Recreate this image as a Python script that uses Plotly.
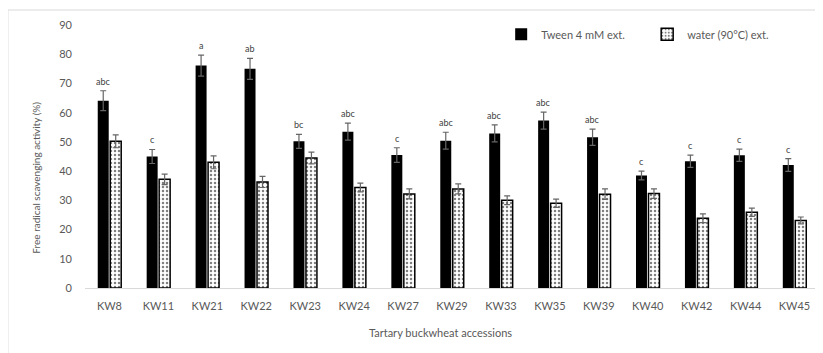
import plotly.graph_objects as go

categories = ["KW8", "KW11", "KW21", "KW22", "KW23", "KW24", "KW27", "KW29",
              "KW33", "KW35", "KW39", "KW40", "KW42", "KW44", "KW45"]
tween = [64.1, 45.0, 76.1, 75.0, 50.2, 53.5, 45.5, 50.4, 52.9, 57.3, 51.6, 38.5, 43.4, 45.4, 42.1]
tween_err = [3.4, 2.4, 3.6, 3.6, 2.4, 2.9, 2.5, 2.9, 2.9, 2.9, 2.8, 1.5, 2.1, 2.1, 2.2]
water = [50.2, 37.2, 43.0, 36.3, 44.5, 34.4, 32.2, 33.9, 30.0, 29.0, 32.1, 32.3, 23.9, 25.9, 23.1]
water_err = [2.2, 1.8, 2.2, 1.9, 2.0, 1.5, 1.7, 1.7, 1.5, 1.4, 1.8, 1.6, 1.5, 1.4, 1.2]
letters = ["abc", "c", "a", "ab", "bc", "abc", "c", "abc", "abc", "abc", "abc", "c", "c", "c", "c"]
yticks = [0, 10, 20, 30, 40, 50, 60, 70, 80, 90]

FONT = "Lato, 'Open Sans', sans-serif"
GRAY = "#595959"

fig = go.Figure()
fig.add_trace(go.Bar(
    x=categories, y=tween, name="Tween 4 mM ext.",
    marker=dict(color="black", line=dict(color="black", width=0)),
    error_y=dict(type="data", array=tween_err, color="#666666", thickness=1.2, width=3),
))
fig.add_trace(go.Bar(
    x=categories, y=water, name="water (90°C) ext.",
    marker=dict(color="white", line=dict(color="black", width=1.5),
                pattern=dict(shape=".", fgcolor="black", bgcolor="white", size=4, solidity=0.3)),
    error_y=dict(type="data", array=water_err, color="#666666", thickness=1.2, width=3),
))

annotations = []
for c, v, e, t in zip(categories, tween, tween_err, letters):
    annotations.append(dict(x=c, y=v + e, xref="x", yref="y", text=t, showarrow=False,
                            yanchor="bottom", yshift=2, xshift=-6,
                            font=dict(family=FONT, size=9, color="#404040")))
annotations.append(dict(x=0.484, y=-0.171, xref="paper", yref="paper",
                        text="Tartary buckwheat accessions", showarrow=False,
                        yanchor="middle", font=dict(family=FONT, size=11, color=GRAY)))
annotations.append(dict(x=-0.068, y=0.42, xref="paper", yref="paper", textangle=-90,
                        text="Free radical scavenging activity (%)", showarrow=False,
                        xanchor="center", yanchor="middle",
                        font=dict(family=FONT, size=10, color=GRAY)))

# page body has an 8px margin, so the figure is offset by 8px
fig.update_layout(
    width=815, height=345,
    margin=dict(l=77, r=4, t=17, b=65),
    paper_bgcolor="white", plot_bgcolor="white",
    barmode="group", bargap=0.49, bargroupgap=0.12,
    font=dict(family=FONT, size=11, color=GRAY),
    showlegend=True,
    legend=dict(orientation="h", x=0.567, y=0.965, xanchor="left", yanchor="middle",
                font=dict(family=FONT, size=11, color=GRAY), itemwidth=30,
                entrywidth=101, entrywidthmode="pixels",
                bgcolor="rgba(0,0,0,0)", tracegroupgap=0),
    annotations=annotations,
    shapes=[
        dict(type="line", xref="paper", yref="paper", x0=-0.105, x1=1.01, y0=1.057, y1=1.057,
             line=dict(color="#d9d9d9", width=1)),
        dict(type="line", xref="paper", yref="paper", x0=-0.105, x1=-0.105, y0=1.057, y1=-0.3,
             line=dict(color="#d9d9d9", width=1)),
    ],
    xaxis=dict(showgrid=False, showline=True, linecolor="#d9d9d9", linewidth=1,
               ticks="", ticklabelstandoff=8, tickfont=dict(family=FONT, size=11, color=GRAY)),
    yaxis=dict(range=[0, 90], tickvals=yticks, showgrid=False, showline=False, zeroline=False,
               ticks="", ticklabelstandoff=12, tickfont=dict(family=FONT, size=11, color=GRAY)),
)

fig.write_html("out.html")
